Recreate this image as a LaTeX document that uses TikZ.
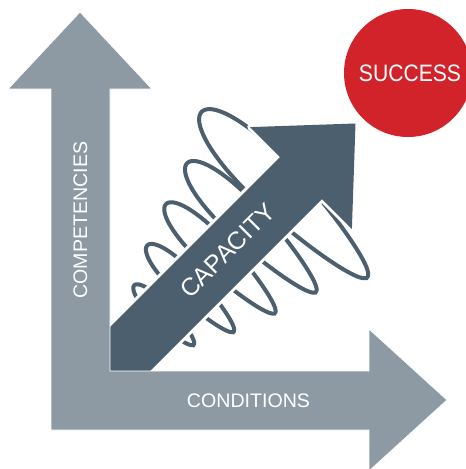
\documentclass[tikz,border=0pt]{standalone}
\usepackage{fontspec}
\setmainfont{Liberation Sans}
\definecolor{slate}{HTML}{4B5F6F}
\definecolor{steel}{HTML}{8D9AA4}
\definecolor{sred}{HTML}{D2232A}
\tikzset{
  coil/.style={draw=slate, line width=3pt},
  lbl/.style={text=white, inner sep=0pt},
  bigfont/.style={font=\fontsize{17.8}{18}\selectfont},
  capfont/.style={font=\fontsize{18.6}{19}\selectfont},
  smallfont/.style={font=\fontsize{14.7}{15}\selectfont}
}
\begin{document}
\begin{tikzpicture}[x=0.75pt,y=-0.75pt]
\useasboundingbox (0,0) rectangle (466,469);
% spring loops
\foreach \d/\a/\bu/\bl in {90/117/30/18, 24/91/24/14, -38/77/20/12, -98/61/16/10, -151/42/11/8}{
  \draw[coil] plot[domain=0:360, samples=180]
    ({(479+(\d))/2 + 0.7071*(\a*cos(\x) + ((\bu+\bl)/2 - (\bu-\bl)/2*cos(\x))*sin(\x))},
     {(479-(\d))/2 + 0.7071*(\a*cos(\x) - ((\bu+\bl)/2 - (\bu-\bl)/2*cos(\x))*sin(\x))}) -- cycle;
}
% capacity arrow
\def\caparrow{(53.5,383.5) -- (280,157) -- (250.1,127.1) -- (355.5,123.5) -- (351.9,228.9) -- (322,199) -- (95.5,425.5) -- cycle}
\draw[white, line width=4.5pt, line join=round] \caparrow;
\fill[slate] \caparrow;
% L-shaped axes
\filldraw[fill=steel, draw=white, line width=0.6pt]
  (80,12) -- (152,89) -- (110,89) -- (110,371) -- (369,371) -- (369,329) -- (447,400)
  -- (369,471) -- (369,430) -- (51,430) -- (51,89) -- (8,89) -- cycle;
% success
\node[circle, fill=sred, minimum size=96pt, inner sep=0pt] (success) at (408,73) {};
\node[lbl, bigfont, xscale=0.89] (successlbl) at (410,73.5) {SUCCESS};
% labels
\node[lbl, smallfont, rotate=90] (comp) at (80.5,220) {COMPETENCIES};
\node[lbl, smallfont] (cond) at (248.5,400.5) {CONDITIONS};
\node[lbl, capfont, rotate=45] (cap) at (227.5,250.5) {CAPACITY};
\end{tikzpicture}
\end{document}
